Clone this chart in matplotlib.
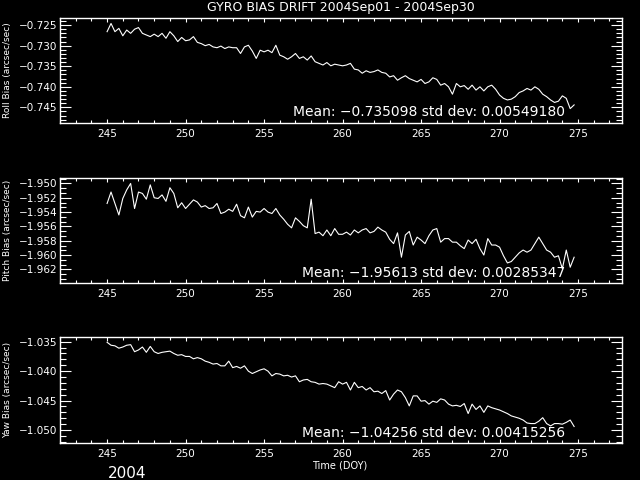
import numpy as np
import matplotlib
matplotlib.use("Agg")
import matplotlib.pyplot as plt
from matplotlib.ticker import MultipleLocator, FuncFormatter

# ---- data (day of year, sampled every 0.25 day) ----
DAY_START = 245.0
DAY_STEP = 0.25

roll = [
    -0.7266, -0.7246, -0.7266, -0.7258, -0.7276, -0.7262, -0.7270, -0.7260,
    -0.7256, -0.7270, -0.7274, -0.7278, -0.7272, -0.7278, -0.7270, -0.7282,
    -0.7266, -0.7276, -0.7290, -0.7280, -0.7288, -0.7286, -0.7278, -0.7292,
    -0.7295, -0.7300, -0.7297, -0.7303, -0.7305, -0.7301, -0.7307, -0.7303,
    -0.7305, -0.7305, -0.7319, -0.7303, -0.7299, -0.7313, -0.7331, -0.7311,
    -0.7315, -0.7311, -0.7317, -0.7299, -0.7323, -0.7327, -0.7333, -0.7327,
    -0.7319, -0.7331, -0.7327, -0.7335, -0.7325, -0.7339, -0.7343, -0.7347,
    -0.7341, -0.7349, -0.7345, -0.7347,
    -0.7349, -0.7347, -0.7343, -0.7357, -0.7359, -0.7367, -0.7361, -0.7365,
    -0.7363, -0.7359, -0.7365, -0.7367, -0.7376, -0.7373, -0.7384, -0.7378,
    -0.7373, -0.7380, -0.7384, -0.7388, -0.7382, -0.7392, -0.7388, -0.7378,
    -0.7382, -0.7396, -0.7392, -0.7400, -0.7418, -0.7392, -0.7400, -0.7397,
    -0.7406, -0.7396, -0.7408, -0.7400, -0.7410, -0.7400, -0.7396, -0.7406,
    -0.7420, -0.7428, -0.7432, -0.7430, -0.7424, -0.7414, -0.7410, -0.7404,
    -0.7408, -0.7400, -0.7406, -0.7418, -0.7424, -0.7432, -0.7438, -0.7435,
    -0.7422, -0.7428, -0.7453, -0.7444,
]

pitch = [
    -1.9528, -1.9512, -1.9528, -1.9544, -1.9521, -1.9509, -1.9500, -1.9535,
    -1.9512, -1.9514, -1.9522, -1.9502, -1.9520, -1.9521, -1.9516, -1.9525,
    -1.9506, -1.9514, -1.9534, -1.9527, -1.9535, -1.9529, -1.9523, -1.9526,
    -1.9533, -1.9531, -1.9535, -1.9534, -1.9528, -1.9542, -1.9540, -1.9536,
    -1.9539, -1.9529, -1.9545, -1.9548, -1.9533, -1.9547, -1.9539, -1.9540,
    -1.9535, -1.9540, -1.9542, -1.9535, -1.9544, -1.9550, -1.9557, -1.9562,
    -1.9548, -1.9553, -1.9559, -1.9562, -1.9522, -1.9570, -1.9568, -1.9573,
    -1.9565, -1.9573, -1.9563, -1.9571,
    -1.9571, -1.9568, -1.9572, -1.9565, -1.9569, -1.9565, -1.9563, -1.9569,
    -1.9567, -1.9561, -1.9565, -1.9568, -1.9578, -1.9584, -1.9569, -1.9603,
    -1.9572, -1.9567, -1.9586, -1.9575, -1.9579, -1.9584, -1.9573, -1.9565,
    -1.9563, -1.9582, -1.9577, -1.9577, -1.9582, -1.9582, -1.9587, -1.9591,
    -1.9579, -1.9584, -1.9578, -1.9591, -1.9600, -1.9577, -1.9586, -1.9586,
    -1.9589, -1.9601, -1.9611, -1.9609, -1.9603, -1.9597, -1.9593, -1.9596,
    -1.9593, -1.9584, -1.9575, -1.9584, -1.9593, -1.9596, -1.9603, -1.9601,
    -1.9619, -1.9593, -1.9617, -1.9603,
]

yaw = [
    -1.0351, -1.0356, -1.0357, -1.0361, -1.0359, -1.0356, -1.0355, -1.0367,
    -1.0364, -1.0359, -1.0368, -1.0358, -1.0367, -1.0370, -1.0368, -1.0367,
    -1.0366, -1.0370, -1.0373, -1.0372, -1.0375, -1.0375, -1.0379, -1.0377,
    -1.0379, -1.0383, -1.0385, -1.0388, -1.0387, -1.0391, -1.0391, -1.0383,
    -1.0394, -1.0392, -1.0395, -1.0391, -1.0400, -1.0404, -1.0401, -1.0398,
    -1.0396, -1.0400, -1.0408, -1.0404, -1.0405, -1.0408, -1.0407, -1.0410,
    -1.0408, -1.0418, -1.0415, -1.0414, -1.0418, -1.0419, -1.0422, -1.0421,
    -1.0422, -1.0425, -1.0428, -1.0418,
    -1.0422, -1.0419, -1.0432, -1.0419, -1.0428, -1.0426, -1.0432, -1.0428,
    -1.0435, -1.0434, -1.0438, -1.0433, -1.0449, -1.0439, -1.0432, -1.0435,
    -1.0445, -1.0459, -1.0442, -1.0442, -1.0451, -1.0450, -1.0456, -1.0451,
    -1.0453, -1.0447, -1.0449, -1.0456, -1.0459, -1.0458, -1.0460, -1.0455,
    -1.0472, -1.0456, -1.0465, -1.0459, -1.0470, -1.0459, -1.0462, -1.0464,
    -1.0466, -1.0469, -1.0472, -1.0476, -1.0478, -1.0480, -1.0483, -1.0488,
    -1.0489, -1.0489, -1.0485, -1.0479, -1.0489, -1.0493, -1.0489, -1.0489,
    -1.0490, -1.0487, -1.0483, -1.0494,
]

days = DAY_START + DAY_STEP * np.arange(len(roll))

titles_y = ["Roll Bias (arcsec/sec)", "Pitch Bias (arcsec/sec)", "Yaw Bias (arcsec/sec)"]
means = ["Mean: \u22120.735098 std dev: 0.00549180",
         "Mean: \u22121.95613 std dev: 0.00285347",
         "Mean: \u22121.04256 std dev: 0.00415256"]
ylims = [(-0.7488, -0.7232), (-1.9639, -1.9492), (-1.0522, -1.0342)]
majors = [0.005, 0.002, 0.005]
minors = [0.001, 0.002 / 3, 0.001]
XLIM = (242.0, 277.8)

W, H = 640, 480
fig = plt.figure(figsize=(6.4, 4.8), dpi=100, facecolor="black")
plt.rcParams['font.family'] = ['DejaVu Sans']

fmt = FuncFormatter(lambda v, p: ("%.3f" % v).replace("-", "\u2212"))

# pixel boxes (left, top, right, bottom)
boxes = [(60, 17.7, 622, 123), (60, 177.7, 622, 283), (60, 337, 622, 443)]
mean_y = [112, 272.7, 432.7]

for i, series in enumerate([roll, pitch, yaw]):
    l, t, r, b = boxes[i]
    ax = fig.add_axes([l / W, 1 - b / H, (r - l) / W, (b - t) / H])
    ax.set_facecolor("black")
    ax.plot(days, series, color="white", lw=0.8)
    ax.set_xlim(*XLIM)
    ax.set_ylim(*ylims[i])
    ax.xaxis.set_major_locator(MultipleLocator(5))
    ax.xaxis.set_minor_locator(MultipleLocator(1))
    ax.yaxis.set_major_locator(MultipleLocator(majors[i]))
    ax.yaxis.set_minor_locator(MultipleLocator(minors[i]))
    ax.yaxis.set_major_formatter(fmt)
    for s in ax.spines.values():
        s.set_color("white")
        s.set_linewidth(1.0)
    ax.tick_params(axis="both", which="both", direction="in", colors="white",
                   top=True, right=True, labelsize=7.5, width=0.8)
    ax.tick_params(axis="x", which="major", length=3, pad=4)
    ax.tick_params(axis="x", which="minor", length=2)
    ax.tick_params(axis="y", which="major", length=8, pad=2)
    ax.tick_params(axis="y", which="minor", length=4)
    ax.set_ylabel(titles_y[i], color="white", fontsize=6.5)
    ax.yaxis.set_label_coords(-0.085, 0.5)
    fig.text(565 / W, 1 - mean_y[i] / H, means[i], color="white",
             fontsize=10, ha="right", va="center")

fig.text(341 / W, 1 - 8 / H, "GYRO BIAS DRIFT 2004Sep01 - 2004Sep30",
         color="white", fontsize=9, ha="center", va="center")
fig.text(340 / W, 1 - 465 / H, "Time (DOY)", color="white", fontsize=7,
         ha="center", va="center")
fig.text(127 / W, 1 - 473 / H, "2004", color="white", fontsize=11,
         ha="center", va="center")

fig.savefig("out.png", dpi=100, facecolor="black")
